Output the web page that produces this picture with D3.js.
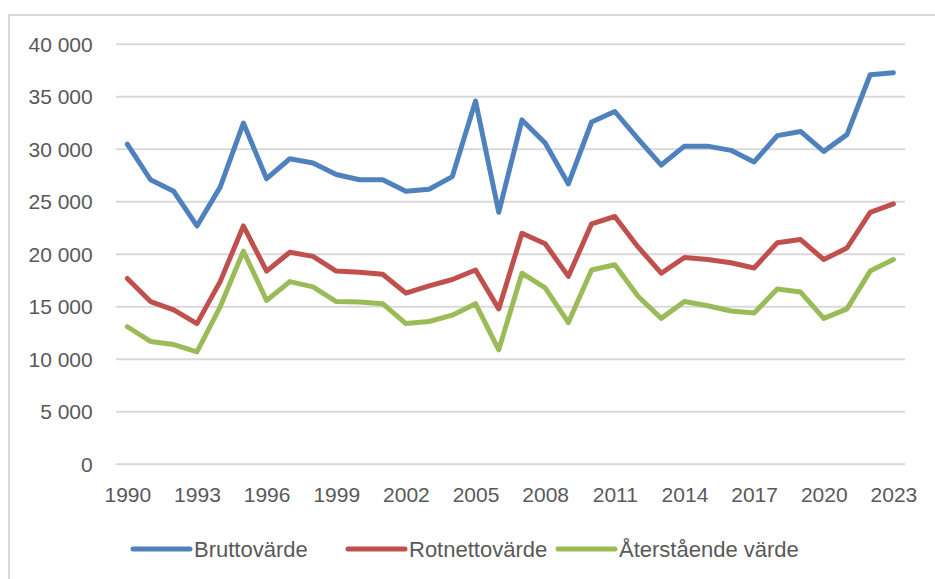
<!DOCTYPE html>
<html>
<head>
<meta charset="utf-8">
<script src="https://cdn.jsdelivr.net/npm/d3@7"></script>
<style>
  html, body { margin: 0; padding: 0; background: #ffffff; }
  svg { display: block; }
  text { font-family: "Liberation Sans", Arial, sans-serif; fill: #595959; }
</style>
</head>
<body>
<svg id="chart" width="935" height="579"></svg>
<script>
// Yearly values (1990–2023)
const years = d3.range(1990, 2024);

const bruttovarde = [
  30500, 27100, 26000, 22700, 26400, 32500, 27200, 29100, 28700, 27600,
  27100, 27100, 26000, 26200, 27400, 34600, 24000, 32800, 30600, 26700,
  32600, 33600, 31000, 28500, 30300, 30300, 29900, 28800, 31300, 31700,
  29800, 31400, 37100, 37300
];
const rotnettovarde = [
  17700, 15500, 14700, 13400, 17400, 22700, 18400, 20200, 19800, 18400,
  18300, 18100, 16300, 17000, 17600, 18500, 14800, 22000, 21000, 17900,
  22900, 23600, 20700, 18200, 19700, 19500, 19200, 18700, 21100, 21400,
  19500, 20600, 24000, 24800
];
const aterstaendeVarde = [
  13100, 11700, 11400, 10700, 15000, 20300, 15600, 17400, 16900, 15500,
  15450, 15300, 13400, 13600, 14200, 15300, 10900, 18200, 16800, 13500,
  18500, 19000, 16000, 13900, 15500, 15100, 14600, 14400, 16700, 16400,
  13900, 14800, 18400, 19500
];

const seriesNames = ["Bruttovärde", "Rotnettovärde", "Återstående värde"];
const seriesColors = ["#4F81BD", "#C0504D", "#9BBB59"];
const yTicks = [0, 5000, 10000, 15000, 20000, 25000, 30000, 35000, 40000];
const xTickYears = [1990, 1993, 1996, 1999, 2002, 2005, 2008, 2011, 2014, 2017, 2020, 2023];

const series = [bruttovarde, rotnettovarde, aterstaendeVarde].map((vals, i) => ({
  name: seriesNames[i],
  color: seriesColors[i],
  values: vals.map((v, j) => ({ year: years[j], value: v }))
}));

const svg = d3.select("#chart");

// Outer frame
svg.append("rect")
  .attr("x", 9).attr("y", 15)
  .attr("width", 960).attr("height", 600)
  .attr("fill", "none")
  .attr("stroke", "#d9d9d9")
  .attr("stroke-width", 2);

const plot = { left: 115.7, right: 905, top: 44.3, bottom: 464.3 };

const x = d3.scalePoint()
  .domain(years)
  .range([plot.left, plot.right])
  .padding(0.5);

const y = d3.scaleLinear()
  .domain([0, 40000])
  .range([plot.bottom, plot.top]);

const sv = d3.formatLocale({ decimal: ",", thousands: "\u00a0", grouping: [3], currency: ["", " kr"] });
const fmt = sv.format(",d");

// Horizontal gridlines
svg.append("g")
  .selectAll("line")
  .data(yTicks)
  .join("line")
  .attr("x1", plot.left).attr("x2", plot.right)
  .attr("y1", d => y(d)).attr("y2", d => y(d))
  .attr("stroke", "#d9d9d9")
  .attr("stroke-width", 2);

// Y axis labels
const yAxis = svg.append("g")
  .attr("transform", `translate(${plot.left - 23},0)`)
  .call(d3.axisLeft(y).tickValues(yTicks).tickFormat(fmt).tickSize(0).tickPadding(0));
yAxis.select(".domain").remove();
yAxis.selectAll("text")
  .attr("font-size", "21px")
  .attr("font-family", "Liberation Sans, Arial, sans-serif")
  .attr("fill", "#595959");

// X axis labels
const xAxis = svg.append("g")
  .attr("transform", `translate(0,${plot.bottom})`)
  .call(d3.axisBottom(x).tickValues(xTickYears).tickSize(0).tickPadding(0));
xAxis.select(".domain").remove();
xAxis.selectAll("text")
  .attr("y", 38)
  .attr("dy", null)
  .attr("font-size", "21px")
  .attr("font-family", "Liberation Sans, Arial, sans-serif")
  .attr("fill", "#595959");

// Series lines
const line = d3.line()
  .x(d => x(d.year))
  .y(d => y(d.value));

svg.append("g")
  .selectAll("path")
  .data(series)
  .join("path")
  .attr("d", d => line(d.values))
  .attr("fill", "none")
  .attr("stroke", d => d.color)
  .attr("stroke-width", 5)
  .attr("stroke-linejoin", "round")
  .attr("stroke-linecap", "round");

// Legend
const legendX = [133, 348, 558];
const legend = svg.append("g")
  .selectAll("g")
  .data(series)
  .join("g")
  .attr("transform", (d, i) => `translate(${legendX[i]},549)`);

legend.append("line")
  .attr("x1", 0).attr("x2", 57)
  .attr("y1", 0).attr("y2", 0)
  .attr("stroke", d => d.color)
  .attr("stroke-width", 5)
  .attr("stroke-linecap", "round");

legend.append("text")
  .attr("x", 61)
  .attr("y", 8)
  .attr("font-size", "22px")
  .text(d => d.name);
</script>
</body>
</html>
